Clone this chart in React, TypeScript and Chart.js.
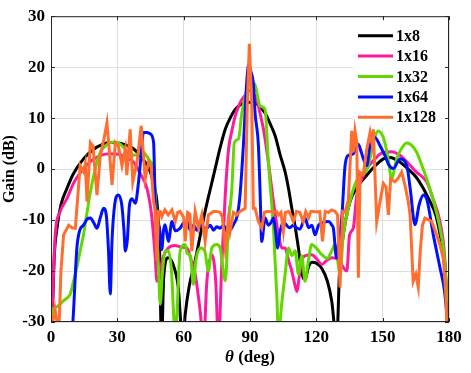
import { useEffect, useRef } from "react";
import { Chart, registerables } from "chart.js";

Chart.register(...registerables);

const FONT = "'Liberation Serif', 'Times New Roman', serif";

const seriesLabels = ["1x8", "1x16", "1x32", "1x64", "1x128"];
const seriesColors = ["#000000", "#ff1a9c", "#62d800", "#0010ff", "#ff6e2e"];

const xTicks = [0, 30, 60, 90, 120, 150, 180];
const yTicks = [-30, -20, -10, 0, 10, 20, 30];

const theta8 = [0, 0.5, 1.5, 2.7, 4.5, 7.2, 10, 14.7, 19, 23, 27, 31, 34, 37.3, 41, 44.9, 46.5, 47.9, 49, 50, 51, 53, 55, 57.5, 59.6, 60.7, 62.5, 65.2, 67.5, 69.7, 72, 74.2, 76.5, 78.8, 81, 83.3, 85.5, 87.8, 90, 92.3, 94.5, 96.8, 99, 101.4, 103.5, 105.9, 107.5, 108.9, 110.5, 111.9, 113, 114.1, 115, 116.4, 118, 120.2, 122.5, 125, 127, 129.2, 130.5, 132.2, 135.2, 138.5, 142.8, 146.5, 150.3, 153.3, 157.8, 161, 165, 168.4, 171, 174, 176, 178, 179.7];
const gain8 = [-34, -30, -17, -11.6, -7, -3.8, -1, 2, 3.8, 4.8, 5.2, 5.1, 4.7, 4, 2.3, -0.5, -3, -6.4, -14, -34, -21, -17.4, -18.5, -23, -34, -28.5, -23, -18, -13, -8.3, -4, 0, 4.2, 7.8, 10, 11.7, 12.6, 13, 13.1, 13, 12.2, 11, 9, 6.5, 3, -0.6, -4, -7.7, -11.5, -15.5, -19, -21.5, -21.5, -19.3, -18.3, -18.5, -19.5, -22, -26, -34, -20, -12.9, -6.4, -3.5, -1.2, 0.6, 2, 2.3, 1.4, 0.2, -1.5, -3.8, -6, -9, -12.9, -18, -32];

const theta16 = [0, 0.5, 1.9, 4, 7.2, 10.5, 14.7, 18.5, 22.5, 26.8, 30.5, 34, 37.3, 40.5, 43.4, 45.5, 47.1, 47.9, 49, 50.5, 53.1, 56, 59.2, 61.5, 63.5, 65.2, 67.5, 69, 70.5, 72.7, 74.5, 75.7, 77.3, 78.8, 80.3, 81.8, 83.3, 85, 86.3, 88.6, 90, 91.5, 93.1, 94.5, 96.1, 98.3, 100.6, 102.9, 104.5, 105.9, 107.5, 108.9, 110.2, 111.2, 112.3, 113.4, 115, 117.9, 120, 122.5, 124.5, 127, 129, 130.5, 132.2, 133.8, 135, 136.7, 138.3, 140.5, 142.8, 146.5, 150.3, 154, 157.8, 161, 165, 169.9, 172.5, 175.9, 178, 179.7];
const gain16 = [-34, -28, -12.9, -8.5, -5.8, -2.5, 0.1, 1.7, 2.7, 3, 2.9, 2.2, 1.4, -1, -3.8, -9, -17, -22, -21, -17.5, -15.5, -15, -15.3, -15.5, -18, -20.6, -28, -34, -22, -16.8, -22, -34, -18, -5.1, 3.9, 7.5, 10.4, 12.5, 13.6, 14.9, 15.4, 14.8, 13.6, 11, 7.8, 1.4, -6.4, -12.9, -15.5, -15.5, -18, -20, -22.5, -24, -21, -18, -17, -16.8, -17.5, -18.7, -18, -17.4, -17.5, -18, -19.3, -20, -13, -11.6, -5.1, -2, 0.1, 2, 3.3, 3.4, 2.7, 1.4, -0.5, -2.5, -5.5, -10.3, -17, -32];

const theta32 = [0, 0.5, 2.7, 5.7, 8.7, 10.2, 11.7, 13.2, 14.7, 16.3, 17.8, 20, 22.3, 24.5, 26.8, 29, 31.3, 33.5, 35.8, 38.8, 41.8, 43.4, 44.9, 46.4, 47.5, 48.6, 49.4, 50.3, 51.6, 53, 54.5, 55.4, 56.2, 57, 58.4, 60.7, 61.5, 63, 64.4, 65.5, 67.5, 69.5, 71.2, 72.7, 75, 76.5, 78.8, 80.3, 81.8, 82.9, 84.8, 86.3, 88, 89.3, 91, 92.3, 94.6, 96.8, 98.3, 100.6, 102.1, 103, 104, 105.9, 107.4, 109, 110.4, 111.9, 113.4, 114.9, 116.4, 117.9, 120, 122.5, 125, 127, 128.5, 130, 130.7, 132.2, 135.2, 137.5, 139.8, 142.8, 144.5, 145.8, 148, 150, 151, 152.5, 154.1, 155.3, 156.3, 158.5, 160.9, 163, 165.4, 167.5, 169.9, 172.5, 175.9, 178, 179.7];
const gain32 = [-31, -28, -27, -25.8, -24.5, -22, -19.3, -16, -12.9, -8.5, -4.5, 0, 3.3, 4.5, 5.2, 5.3, 4.9, 3.9, 2.7, 2.8, 3.3, 2.5, 1.5, 0, -8, -19.3, -26.5, -21, -16.1, -16, -20, -28, -34, -28, -16.1, -14.8, -16.5, -17, -22.6, -18, -15.5, -16, -20, -15.5, -14.8, -15.5, -21.9, -10.9, -3.8, 5.2, 5.9, 11, 14.5, 16.8, 17, 16.5, 12.4, 11.7, 1.4, -11.6, -24.5, -34, -28, -20.6, -15.5, -17, -16, -20.6, -17, -22, -18, -14.8, -15.5, -16.8, -17.5, -16, -14.8, -19, -20.6, -12.9, -6.4, -3, -1.2, -0.2, 2.5, 5.2, 7.5, 6.5, 5.2, 2, -1.9, 0, 2, 4, 5.1, 4.7, 3.3, 1, -1.9, -5.5, -11.6, -18, -32];

const theta64 = [9, 9.9, 11.7, 13, 14.7, 16.3, 17.8, 19.3, 20.8, 22.3, 23.8, 25, 26, 26.8, 27.6, 28.8, 30.5, 32, 33, 33.6, 34.5, 35.5, 36.6, 38.1, 39.6, 40.8, 41.8, 43.4, 44.9, 46.4, 47.1, 47.9, 48.8, 50.1, 50.9, 51.6, 53.1, 54.7, 56.2, 58.4, 60, 61.5, 63, 64.5, 66, 67.5, 69, 70.5, 72, 73.5, 75, 76.5, 78, 79.5, 81, 82.5, 84.3, 85.5, 87, 88.6, 89.4, 90.5, 91.5, 92.3, 93.8, 94.6, 95.3, 96.8, 98.3, 99.5, 100.6, 101.5, 102.5, 103.5, 105.1, 106.5, 108, 109.5, 111, 112.5, 114.9, 116.5, 118, 119.4, 121, 123, 125.5, 127, 127.7, 129.2, 130.2, 131.5, 133, 134.5, 136.7, 139, 140.2, 141.3, 142.8, 144.3, 146.5, 148.8, 151, 152.8, 154.8, 157.8, 160.9, 162.5, 164.6, 166.5, 168.4, 170, 172.9, 175.9, 178, 179.7];
const gain64 = [-34, -30, -15.5, -12, -11, -9.8, -9.6, -10.5, -11.6, -9.5, -7.7, -9, -16, -24.5, -14, -7, -5.1, -7, -12, -16.1, -14, -7, -5.8, -6.7, -2.5, 3, 7.2, 7.2, 6.9, 5.2, -6.4, -14.2, -11, -15.8, -12, -10.9, -14.2, -10.3, -12.1, -11.6, -10.5, -10.3, -12, -11, -12, -10.9, -11.5, -11.6, -11, -12, -11.3, -11.6, -11, -12.2, -12, -10.9, -9, -5, 4.6, 17.5, 20.5, 19, 16.8, 11, 4.6, -5.1, -14.2, -9.6, -11, -10.5, -9.6, -12, -15.5, -12.5, -10.3, -11, -11.5, -11, -11.5, -11.8, -9.6, -11.5, -11, -12.9, -11, -10.5, -10.3, -11, -11.6, -17.5, -14, -9.6, 0.7, 2.7, 3, 4.9, 3.5, 2, 0.7, 4.6, 6.2, 4.6, 2.7, 0.8, 0.1, 2, 0.7, -4, -10.9, -7, -5.1, -6, -12.9, -19.3, -24, -32];

const theta128 = [0, 0.8, 1.8, 2.7, 3.4, 4.5, 5.7, 8, 9.5, 11, 12, 13.2, 14.7, 15.5, 16.3, 17.8, 19, 20.8, 22.3, 24, 25.3, 26.5, 27.6, 29.1, 30.5, 32.1, 33.6, 34.3, 35.8, 37, 38.9, 40.8, 42.6, 44.1, 45.2, 46.4, 47.1, 47.9, 48.6, 49.4, 50.1, 51.5, 53, 54.7, 56.2, 57.3, 58.4, 60, 60.7, 61.8, 62.8, 63.7, 65.2, 66.7, 68.2, 69.7, 71.2, 73.5, 75, 76.5, 77.5, 78.8, 80.3, 81, 82.5, 84, 85.5, 87.8, 88.8, 89.7, 90.8, 91.5, 92.3, 93.8, 95.3, 96.5, 97.6, 99, 100.5, 102, 102.9, 104, 105.1, 106, 107.5, 108.5, 109.6, 111, 112.5, 114.1, 115.2, 116.5, 117.5, 118.7, 120, 121.5, 122.8, 124, 125.5, 127, 128.5, 129.6, 130.7, 131.9, 133, 134.5, 136, 136.7, 137.5, 138.3, 139, 139.8, 141.2, 142.8, 144.3, 145.1, 145.8, 146.5, 147.3, 148.8, 150.3, 151.5, 152.6, 153.6, 155.5, 157, 158.6, 160, 161.6, 162.4, 163.8, 165, 166.1, 167, 168, 169.1, 171, 172.2, 174.4, 176, 177.4, 178.5, 179.3];
const gain128 = [-34, -30, -27.5, -30, -34, -20, -12.9, -11, -11.5, -11.6, -6, 0.7, -0.5, 1, -6.4, 5.2, 4.5, -5.1, 2.7, 6, 9.1, 3, -3.1, 5.2, 4.5, 0.7, 3.9, -1.2, 7.8, -2.5, 1.4, 8.5, -1.9, 1.4, 0.5, -6.4, -8, -18, -8.3, -8.3, -9.3, -8, -9, -8, -10.3, -8.5, -8.3, -9.5, -14.2, -8.5, -8.8, -16.1, -8.3, -11.6, -9, -14.2, -9, -8.3, -8.3, -8.5, -9.5, -15.5, -9.5, -12.2, -8.5, -9, -8.3, -7.7, 13, 24.6, 13, -7.7, -7.7, -10.3, -11.6, -8.5, -8.3, -8.3, -8.5, -8.3, -9, -8.5, -12.2, -8.5, -8.3, -9, -10.3, -8.3, -8.5, -10.3, -8.3, -9.5, -8.3, -8.3, -8.4, -8.3, -14.2, -8.3, -8.5, -8, -8.3, -9, -23.2, -8.3, -8.5, -6, 7.5, 3.3, 7.5, 5.2, -21.3, -0.6, -1, 3.9, 7.2, 5.2, 7.8, -1, -10.3, -6.4, -2.8, -3.5, -9, -1.9, -2.5, -1.8, -0.6, -3, -6.4, -9, -22, -20.6, -23.2, -16, -11, -9.6, -10, -10.3, -12.9, -15, -17.5, -24, -34];

const seriesTheta = [theta8, theta16, theta32, theta64, theta128];
const seriesGain = [gain8, gain16, gain32, gain64, gain128];
const seriesSmooth = [true, true, true, true, false];

const framePlugin = {
  id: "frame",
  beforeDatasetsDraw(chart: any) {
    const { ctx, chartArea: a } = chart;
    ctx.save();
    ctx.fillStyle = "#ffffff";
    ctx.fillRect(a.right - 96, a.top + 3, 94, 108);
    ctx.restore();
  },
  afterDatasetsDraw(chart: any) {
    const { ctx, chartArea: a, scales } = chart;
    ctx.save();
    ctx.strokeStyle = "#262626";
    ctx.lineWidth = 1;
    ctx.strokeRect(a.left + 0.5, a.top + 0.5, a.right - a.left - 1, a.bottom - a.top - 1);
    const tl = 4;
    ctx.beginPath();
    for (const v of xTicks) {
      const px = Math.round(scales.x.getPixelForValue(v)) + 0.5;
      ctx.moveTo(px, a.top);
      ctx.lineTo(px, a.top + tl);
      ctx.moveTo(px, a.bottom);
      ctx.lineTo(px, a.bottom - tl);
    }
    for (const v of yTicks) {
      const py = Math.round(scales.y.getPixelForValue(v)) + 0.5;
      ctx.moveTo(a.left, py);
      ctx.lineTo(a.left + tl, py);
      ctx.moveTo(a.right, py);
      ctx.lineTo(a.right - tl, py);
    }
    ctx.stroke();
    ctx.restore();
  },
  afterDraw(chart: any) {
    const { ctx, chartArea: a } = chart;
    ctx.save();
    const x0 = a.right - 91;
    const y0 = a.top + 19.5;
    chart.data.datasets.forEach((ds: any, i: number) => {
      const y = y0 + i * 20.4;
      ctx.strokeStyle = ds.borderColor;
      ctx.lineWidth = 3;
      ctx.beginPath();
      ctx.moveTo(x0, y);
      ctx.lineTo(x0 + 35, y);
      ctx.stroke();
      ctx.fillStyle = "#000";
      ctx.font = `bold 16px ${FONT}`;
      ctx.textAlign = "left";
      ctx.textBaseline = "middle";
      ctx.fillText(ds.label, x0 + 38, y + 1);
    });
    ctx.save();
    ctx.translate(10, (a.top + a.bottom) / 2);
    ctx.rotate(-Math.PI / 2);
    ctx.font = `bold 16px ${FONT}`;
    ctx.textAlign = "center";
    ctx.textBaseline = "middle";
    ctx.fillStyle = "#000";
    ctx.fillText("Gain (dB)", 0, 0);
    ctx.restore();
    const t1 = "θ";
    const t2 = " (deg)";
    ctx.font = `italic bold 17px ${FONT}`;
    const w1 = ctx.measureText(t1).width;
    ctx.font = `bold 17px ${FONT}`;
    const w2 = ctx.measureText(t2).width;
    const cx = (a.left + a.right) / 2;
    const sx = cx - (w1 + w2) / 2;
    const ty = 358;
    ctx.textAlign = "left";
    ctx.textBaseline = "middle";
    ctx.fillStyle = "#000";
    ctx.font = `italic bold 17px ${FONT}`;
    ctx.fillText(t1, sx, ty);
    ctx.font = `bold 17px ${FONT}`;
    ctx.fillText(t2, sx + w1, ty);
    ctx.restore();
  },
};

export default function App() {
  const ref = useRef<HTMLCanvasElement | null>(null);
  useEffect(() => {
    document.body.style.margin = "0";
    const canvas = ref.current;
    if (!canvas) return;
    const datasets = seriesLabels.map((label, i) => ({
      label,
      data: seriesTheta[i].map((x, j) => ({ x, y: seriesGain[i][j] })),
      borderColor: seriesColors[i],
      backgroundColor: seriesColors[i],
      borderWidth: 3,
      pointRadius: 0,
      tension: 0,
      cubicInterpolationMode: seriesSmooth[i] ? "monotone" : "default",
      fill: false,
      clip: 0,
      order: seriesLabels.length - i,
    }));
    const chart = new Chart(canvas, {
      type: "line",
      data: { datasets },
      plugins: [framePlugin],
      options: {
        animation: false,
        responsive: false,
        devicePixelRatio: 1,
        layout: { padding: { top: 12, right: 22, left: 0, bottom: 0 } },
        plugins: { legend: { display: false }, tooltip: { enabled: false } },
        scales: {
          x: {
            type: "linear",
            min: 0,
            max: 180,
            afterBuildTicks: (axis: any) => {
              axis.ticks = xTicks.map((v) => ({ value: v }));
            },
            afterFit: (axis: any) => {
              axis.height = 51;
            },
            ticks: {
              color: "#000",
              padding: 5,
              maxRotation: 0,
              font: { family: FONT, size: 17, weight: "bold" },
            },
            grid: { color: "#dedede", lineWidth: 1, drawTicks: false },
            border: { display: false },
          },
          y: {
            type: "linear",
            min: -30,
            max: 30,
            afterBuildTicks: (axis: any) => {
              axis.ticks = yTicks.map((v) => ({ value: v }));
            },
            afterFit: (axis: any) => {
              axis.width = 51;
            },
            ticks: {
              color: "#000",
              padding: 6,
              font: { family: FONT, size: 17, weight: "bold" },
            },
            grid: { color: "#dedede", lineWidth: 1, drawTicks: false },
            border: { display: false },
          },
        },
      },
    } as any);
    return () => chart.destroy();
  }, []);
  return <canvas ref={ref} width={471} height={373} style={{ display: "block" }} />;
}
